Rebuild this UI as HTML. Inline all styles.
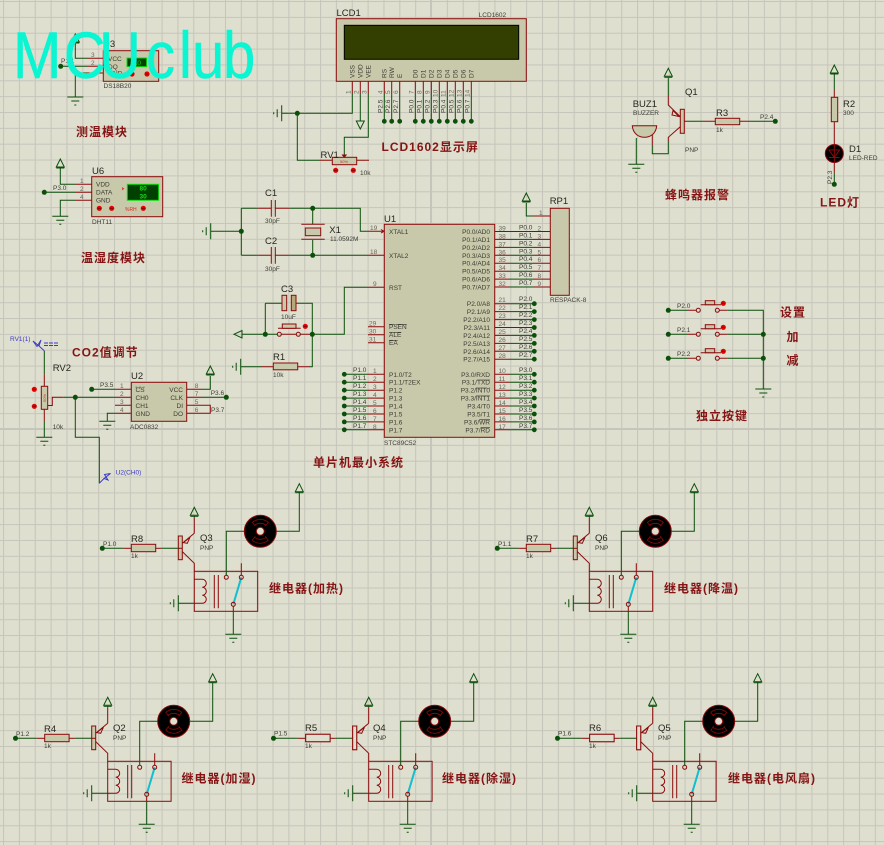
<!DOCTYPE html>
<html><head><meta charset="utf-8"><style>
html,body{margin:0;padding:0;background:#dfdfcf}
svg{display:block}
text{font-family:"Liberation Sans","Noto Sans CJK SC",sans-serif;fill:#3c3c34;font-size:6.5px}
.b{font-size:9.5px;fill:#26261f}
.n{fill:#6a6a5c}
.c{font-size:12px;fill:#861414;font-weight:bold;letter-spacing:1px}
.g{stroke:#0a4f0a;fill:none;stroke-width:1}
.r{stroke:#8b0a0a;fill:none;stroke-width:1}
.bx{stroke:#8b0a0a;fill:#c8c8aa;stroke-width:1}
.bl{stroke:#8b0a0a;fill:#dfdfcf;stroke-width:1}
.d{fill:#0a4f0a;stroke:none}
.blue{fill:#3a3ac8}
.e{text-anchor:end}
</style></head><body>
<svg xmlns="http://www.w3.org/2000/svg" width="884" height="845" viewBox="0 0 884 845">
<defs>
<pattern id="grid" patternUnits="userSpaceOnUse" x="3.05" y="1.05" width="15.85" height="15.85">
<path d="M.5 0V15.85M0 .5H15.85" stroke="#c5c5bb" stroke-width="1.1" fill="none"/>
</pattern>
<g id="pw"><path d="M0-9L-4-1H4Z" class="g" stroke-width="1.4"/><path d="M-4 0H4" class="g"/></g>
<g id="pd"><path d="M0 9L-4 1H4Z" class="g" stroke-width="1.4"/></g>
<g id="gnd"><path d="M-8 0H8M-4 4H4M-1 8H1" class="g"/></g>
<g id="gl"><path d="M0-8V8M-4.5-4V4M-8-1V1" class="g"/></g>
<g id="rd"><circle r="2.6" fill="#e80000"/><path d="M-1.5 0H1.5" stroke="#600" stroke-width=".8"/></g>
<g id="relay">
<rect x="0" y="0" width="63.4" height="40" class="r"/>
<path d="M0 8H8a4 4 0 0 1 0 8a4 4 0 0 1 0 8a4 4 0 0 1 0 8H0" class="r"/>
<path d="M20 3.7V37M24 3.7V37" class="r"/>
<path d="M32 4V-40H50" class="g"/>
<path d="M47 4V-8M39 35V40" class="r"/>
<path d="M39 40V63" class="g"/>
<use href="#gnd" x="39" y="63"/>
<path d="M39 33L47 6" stroke="#10c0d0" stroke-width="2"/>
<circle cx="32" cy="6" r="2" fill="#dfdfcf" class="r"/>
<circle cx="47" cy="6" r="2" fill="#dfdfcf" class="r"/>
<circle cx="39" cy="33" r="2" fill="#dfdfcf" class="r"/>
<path d="M0 32H-16" class="g"/>
<use href="#gl" x="-16" y="32"/>
<circle cx="66" cy="-40" r="16" fill="#000" stroke="#8b0a0a"/>
<circle cx="66" cy="-40" r="4" fill="#dfdfcf" stroke="#8b0a0a"/>
<path d="M60-46Q66-50 72-46M58-49Q66-55 74-49L71-45M61-45L58-49M60-34Q66-30 72-34M58-31Q66-25 74-31L71-35M61-35L58-31" stroke="#8b0a0a" fill="none" stroke-width=".8"/>
<path d="M82-40H105V-79.6" class="g"/>
<use href="#pw" x="105" y="-78.6"/>
<path d="M0-38V-54" class="r"/>
<path d="M0-54V-55" class="g"/>
<use href="#pw" x="0" y="-55"/>
<path d="M0 0V-8L-12-19.7M-12-28L0-38" class="r"/>
<path d="M-11-28.7L-4.3-34L-7-28Z" class="r"/>
<rect x="-16" y="-35.3" width="4" height="23.7" class="bx"/>
<path d="M-12-23H-16" class="r"/>
<path d="M-16-23H-24M-24-23H-33" class="g"/>
<path d="M-33-23H-38.6" class="r"/>
<rect x="-63" y="-27" width="24.4" height="7.4" class="bx"/>
<path d="M-71-23H-63" class="r"/>
<path d="M-92-23H-71" class="g"/>
</g>
</defs>
<rect width="884" height="845" fill="#dfdfcf"/>
<rect width="884" height="845" fill="url(#grid)"/>
<path d="M431 0V845M0 429H884" stroke="#c5c5bb" stroke-width="2" fill="none"/>

<!-- U3 DS18B20 -->
<rect x="103.3" y="50.7" width="55.4" height="30.6" class="bx"/>
<path d="M87 58.3H103M87 66.3H103M87 73H103" class="r"/>
<path d="M75.3 43V58.3H87M60.7 66.3H87M87 73H75.3V97" class="g"/>
<use href="#pw" x="75.3" y="43"/>
<use href="#gnd" x="75.3" y="97"/>
<circle cx="60.7" cy="66.3" r="2.5" class="d"/>
<text x="61" y="63">P1.1</text>
<text x="91" y="57" class="n">3</text><text x="91" y="65" class="n">2</text>
<text x="108" y="61">VCC</text><text x="108" y="69">DQ</text><text x="108" y="75.5">GND</text>
<rect x="127" y="58" width="19.7" height="8.7" fill="#004000" stroke="#10e010"/>
<text x="132" y="65" style="fill:#10e010">0.0</text>
<use href="#rd" x="132" y="74"/><use href="#rd" x="147" y="74"/>
<text x="103.5" y="88">DS18B20</text>
<text x="103" y="47" class="b">U3</text>

<!-- U6 DHT11 -->
<rect x="91.7" y="176.7" width="71" height="40" class="bx"/>
<path d="M76 184.3H91.7M76 192.3H91.7M76 200.3H91.7" class="r"/>
<path d="M60.3 168V184.3H76M44.3 192.3H76M76 200.3H60.3V216.3" class="g"/>
<use href="#pw" x="60.3" y="168"/>
<use href="#gnd" x="60.3" y="216.3"/>
<circle cx="44.3" cy="192.3" r="2.5" class="d"/>
<text x="53" y="190">P3.0</text>
<text x="80" y="183" class="n">1</text><text x="80" y="191" class="n">2</text><text x="80" y="199" class="n">4</text>
<text x="96" y="186.5">VDD</text><text x="96" y="194.5">DATA</text><text x="96" y="202.5">GND</text>
<rect x="127.3" y="184.3" width="31.4" height="16" fill="#004000" stroke="#10e010"/>
<text x="139.5" y="190.5" style="fill:#10e010;font-weight:bold">80</text>
<text x="139.5" y="198.5" style="fill:#10e010;font-weight:bold">30</text>
<path d="M122 187l2.5 1.7-2.5 1.7z" fill="#e04040"/>
<use href="#rd" x="99.3" y="208.3"/><use href="#rd" x="111.7" y="208.3"/><use href="#rd" x="143.3" y="208.3"/>
<text x="125" y="211" style="font-size:5px;fill:#d03030">%RH</text>
<text x="92" y="174" class="b">U6</text>
<text x="92" y="224">DHT11</text>

<!-- LCD -->
<rect x="336.3" y="18.7" width="190" height="62.6" class="bx"/>
<rect x="344.3" y="25.3" width="174.4" height="34" fill="#333f00" stroke="#000"/>
<text x="336.5" y="16" class="b">LCD1</text>
<text x="478.7" y="17">LCD1602</text>
<path d="M352.3 81V94M360.3 81V94M368.3 81V94M384.3 81V94M391.7 81V94M399.7 81V94M415.3 81V94M423.3 81V94M431.3 81V94M439.3 81V94M447.3 81V94M455.3 81V94M463.3 81V94M471.3 81V94" class="r"/>
<path d="M352.3 94V113.3H297.3M281.7 113.3H297.3V160.3H320M360.3 94V121M368.3 94V137.3H344.3V155M384.3 94V121.3M391.7 94V121.3M399.7 94V121.3M415.3 94V121.3M423.3 94V121.3M431.3 94V121.3M439.3 94V121.3M447.3 94V121.3M455.3 94V121.3M463.3 94V121.3M471.3 94V121.3" class="g"/>
<use href="#gl" x="281.7" y="113.3"/>
<use href="#pd" x="360.3" y="120"/>
<circle cx="297.3" cy="113.3" r="2.5" class="d"/>
<g class="d"><circle cx="384.3" cy="121.3" r="2.4"/><circle cx="391.7" cy="121.3" r="2.4"/><circle cx="399.7" cy="121.3" r="2.4"/><circle cx="415.3" cy="121.3" r="2.4"/><circle cx="423.3" cy="121.3" r="2.4"/><circle cx="431.3" cy="121.3" r="2.4"/><circle cx="439.3" cy="121.3" r="2.4"/><circle cx="447.3" cy="121.3" r="2.4"/><circle cx="455.3" cy="121.3" r="2.4"/><circle cx="463.3" cy="121.3" r="2.4"/><circle cx="471.3" cy="121.3" r="2.4"/></g>
<g>
<text transform="translate(354.5 78) rotate(-90)">VSS</text>
<text transform="translate(362.5 78) rotate(-90)">VDD</text>
<text transform="translate(370.5 78) rotate(-90)">VEE</text>
<text transform="translate(386.5 78) rotate(-90)">RS</text>
<text transform="translate(394 78) rotate(-90)">RW</text>
<text transform="translate(402 78) rotate(-90)">E</text>
<text transform="translate(417.5 78) rotate(-90)">D0</text>
<text transform="translate(425.5 78) rotate(-90)">D1</text>
<text transform="translate(433.5 78) rotate(-90)">D2</text>
<text transform="translate(441.5 78) rotate(-90)">D3</text>
<text transform="translate(449.5 78) rotate(-90)">D4</text>
<text transform="translate(457.5 78) rotate(-90)">D5</text>
<text transform="translate(465.5 78) rotate(-90)">D6</text>
<text transform="translate(473.5 78) rotate(-90)">D7</text>
<text class="n" transform="translate(350.5 94) rotate(-90)">1</text>
<text class="n" transform="translate(358.5 94) rotate(-90)">2</text>
<text class="n" transform="translate(366.5 94) rotate(-90)">3</text>
<text class="n" transform="translate(382.5 94) rotate(-90)">4</text>
<text class="n" transform="translate(390 94) rotate(-90)">5</text>
<text class="n" transform="translate(398 94) rotate(-90)">6</text>
<text class="n" transform="translate(413.5 94) rotate(-90)">7</text>
<text class="n" transform="translate(421.5 94) rotate(-90)">8</text>
<text class="n" transform="translate(429.5 94) rotate(-90)">9</text>
<text class="n" transform="translate(437.5 97) rotate(-90)">10</text>
<text class="n" transform="translate(445.5 97) rotate(-90)">11</text>
<text class="n" transform="translate(453.5 97) rotate(-90)">12</text>
<text class="n" transform="translate(461.5 97) rotate(-90)">13</text>
<text class="n" transform="translate(469.5 97) rotate(-90)">14</text>
<text transform="translate(382.5 113) rotate(-90)">P2.5</text>
<text transform="translate(390 113) rotate(-90)">P2.6</text>
<text transform="translate(398 113) rotate(-90)">P2.7</text>
<text transform="translate(413.5 113) rotate(-90)">P0.0</text>
<text transform="translate(421.5 113) rotate(-90)">P0.1</text>
<text transform="translate(429.5 113) rotate(-90)">P0.2</text>
<text transform="translate(437.5 113) rotate(-90)">P0.3</text>
<text transform="translate(445.5 113) rotate(-90)">P0.4</text>
<text transform="translate(453.5 113) rotate(-90)">P0.5</text>
<text transform="translate(461.5 113) rotate(-90)">P0.6</text>
<text transform="translate(469.5 113) rotate(-90)">P0.7</text>
</g>
<!-- RV1 -->
<rect x="332.3" y="157.3" width="24.4" height="7.4" class="bx"/>
<path d="M320 160.3H332.3M356.7 160.3H369M344.3 155V157M342.5 155h3.6l-1.8 2.2z" class="r"/>
<text x="340" y="163" style="font-size:4px;fill:#d03030">50%</text>
<use href="#rd" x="335.7" y="170.3"/><use href="#rd" x="353.3" y="170.3"/>
<text x="320.5" y="158" class="b">RV1</text>
<text x="360" y="175">10k</text>

<!-- Crystal / caps -->
<path d="M241.3 208.3V255.3M210.7 231.3H241.3M241.3 208.3H257.3M289.3 208.3H360.3V231.3H368M241.3 255.3H257.3M289.3 255.3H368M312.7 208.3V224M312.7 240V255.3M265.3 303.3H282M296 303.3H312.3V366.7H310M265.3 303.3V334.3M242 334.3H277M312.3 334.3H344.3V287.3H368M240.7 366.7H261" class="g"/>
<path d="M257.3 208.3H271.3M275.3 208.3H289.3M271.3 200V216.7M275.3 200V216.7M257.3 255.3H271.3M275.3 255.3H289.3M271.3 247V263.7M275.3 247V263.7M301.3 224.3H324.7M301.3 239.3H324.7M368 231.3H383M368 255.3H384.3M368 287.3H384.3M261 366.7H273.3M297.7 366.7H310M281.4 334.3H296M300.4 334.3H312.3M278 328.3H300.7" class="r"/>
<path d="M381 229.5l3 1.8-3 1.8" class="r"/>
<rect x="305.3" y="228" width="15.4" height="7.7" class="bx"/>
<use href="#gl" x="210.7" y="231.3"/>
<use href="#gl" x="240.7" y="366.7"/>
<circle cx="241.3" cy="231.3" r="2.5" class="d"/>
<circle cx="312.7" cy="208.3" r="2.5" class="d"/>
<circle cx="312.7" cy="255.3" r="2.5" class="d"/>
<circle cx="265.3" cy="334.3" r="2.5" class="d"/>
<circle cx="312.3" cy="334.3" r="2.5" class="d"/>
<rect x="282" y="295.3" width="4.7" height="15.4" class="bx"/>
<rect x="291.3" y="295.3" width="4.7" height="15.4" fill="#b8a878" stroke="#8b0a0a"/>
<path d="M242 330.5V338L234 334.3Z" class="g" stroke-width="1.3"/>
<rect x="282.3" y="324" width="13.7" height="4.3" class="bx"/>
<circle cx="279.3" cy="334.3" r="2" fill="#dfdfcf" class="r"/>
<circle cx="298.3" cy="334.3" r="2" fill="#dfdfcf" class="r"/>
<use href="#rd" x="305.3" y="326.3"/>
<rect x="273.3" y="363" width="24.4" height="6.8" class="bx"/>
<text x="265" y="196" class="b">C1</text><text x="265" y="223">30pF</text>
<text x="265" y="244" class="b">C2</text><text x="265" y="271">30pF</text>
<text x="329.3" y="233" class="b">X1</text><text x="330" y="241">11.0592M</text>
<text x="281" y="292" class="b">C3</text><text x="281" y="319">10uF</text>
<text x="273" y="360" class="b">R1</text><text x="273" y="377">10k</text>

<!-- U1 -->
<rect x="384.3" y="224.3" width="110.4" height="213" class="bx"/>
<text x="384" y="222" class="b">U1</text>
<text x="384" y="445">STC89C52</text>
<text x="389" y="234">XTAL1</text><text x="389" y="258">XTAL2</text><text x="389" y="290">RST</text>
<text x="389" y="329" text-decoration="overline">PSEN</text><text x="389" y="337" text-decoration="overline">ALE</text><text x="389" y="345" text-decoration="overline">EA</text>
<text x="389" y="376.8">P1.0/T2</text><text x="389" y="384.7">P1.1/T2EX</text><text x="389" y="392.7">P1.2</text><text x="389" y="400.6">P1.3</text><text x="389" y="408.5">P1.4</text><text x="389" y="416.5">P1.5</text><text x="389" y="424.4">P1.6</text><text x="389" y="432.3">P1.7</text>
<g class="e">
<text class="e" x="490" y="234">P0.0/AD0</text><text class="e" x="490" y="241.9">P0.1/AD1</text><text class="e" x="490" y="249.9">P0.2/AD2</text><text class="e" x="490" y="257.8">P0.3/AD3</text><text class="e" x="490" y="265.7">P0.4/AD4</text><text class="e" x="490" y="273.7">P0.5/AD5</text><text class="e" x="490" y="281.6">P0.6/AD6</text><text class="e" x="490" y="289.5">P0.7/AD7</text>
<text class="e" x="490" y="306.2">P2.0/A8</text><text class="e" x="490" y="314.1">P2.1/A9</text><text class="e" x="490" y="322.1">P2.2/A10</text><text class="e" x="490" y="330">P2.3/A11</text><text class="e" x="490" y="337.9">P2.4/A12</text><text class="e" x="490" y="345.9">P2.5/A13</text><text class="e" x="490" y="353.8">P2.6/A14</text><text class="e" x="490" y="361.7">P2.7/A15</text>
<text class="e" x="490" y="376.8">P3.0/RXD</text><text class="e" x="490" y="384.7">P3.1/<tspan text-decoration="overline">TXD</tspan></text><text class="e" x="490" y="392.7">P3.2/<tspan text-decoration="overline">INT0</tspan></text><text class="e" x="490" y="400.6">P3.3/<tspan text-decoration="overline">INT1</tspan></text><text class="e" x="490" y="408.5">P3.4/T0</text><text class="e" x="490" y="416.5">P3.5/T1</text><text class="e" x="490" y="424.4">P3.6/<tspan text-decoration="overline">WR</tspan></text><text class="e" x="490" y="432.3">P3.7/<tspan text-decoration="overline">RD</tspan></text>
</g>
<path d="M368 326.7H384.3M368 334.7H384.3M368 342.7H384.3M368 374.3H384.3M368 382.2H384.3M368 390.2H384.3M368 398.1H384.3M368 406H384.3M368 414H384.3M368 421.9H384.3M368 429.8H384.3" class="r"/>
<path d="M344.3 374.3H368M344.3 382.2H368M344.3 390.2H368M344.3 398.1H368M344.3 406H368M344.3 414H368M344.3 421.9H368M344.3 429.8H368" class="g"/>
<g class="d"><circle cx="344.3" cy="374.3" r="2.4"/><circle cx="344.3" cy="382.2" r="2.4"/><circle cx="344.3" cy="390.2" r="2.4"/><circle cx="344.3" cy="398.1" r="2.4"/><circle cx="344.3" cy="406" r="2.4"/><circle cx="344.3" cy="414" r="2.4"/><circle cx="344.3" cy="421.9" r="2.4"/><circle cx="344.3" cy="429.8" r="2.4"/></g>
<text x="353" y="372">P1.0</text><text x="353" y="380">P1.1</text><text x="353" y="388">P1.2</text><text x="353" y="396">P1.3</text><text x="353" y="404">P1.4</text><text x="353" y="412">P1.5</text><text x="353" y="420">P1.6</text><text x="353" y="428">P1.7</text>
<text class="n" x="370" y="230">19</text><text class="n" x="370" y="254">18</text><text class="n" x="373" y="286">9</text><text class="n" x="369" y="325.5">29</text><text class="n" x="369" y="333.5">30</text><text class="n" x="369" y="341.5">31</text>
<text class="n" x="373" y="373">1</text><text class="n" x="373" y="381">2</text><text class="n" x="373" y="389">3</text><text class="n" x="373" y="397">4</text><text class="n" x="373" y="405">5</text><text class="n" x="373" y="413">6</text><text class="n" x="373" y="421">7</text><text class="n" x="373" y="429">8</text>
<!-- right pins -->
<path d="M494.7 231.5H510M494.7 239.4H510M494.7 247.4H510M494.7 255.3H510M494.7 263.2H510M494.7 271.2H510M494.7 279.1H510M494.7 287H510M534 231.5H550M534 239.4H550M534 247.4H550M534 255.3H550M534 263.2H550M534 271.2H550M534 279.1H550M534 287H550M534 216H550M494.7 303.7H510M494.7 311.6H510M494.7 319.6H510M494.7 327.5H510M494.7 335.4H510M494.7 343.4H510M494.7 351.3H510M494.7 359.2H510M494.7 374.3H510M494.7 382.2H510M494.7 390.2H510M494.7 398.1H510M494.7 406H510M494.7 414H510M494.7 421.9H510M494.7 429.8H510" class="r"/>
<path d="M510 231.5H534M510 239.4H534M510 247.4H534M510 255.3H534M510 263.2H534M510 271.2H534M510 279.1H534M510 287H534M526.3 203V216H534M510 303.7H534M510 311.6H534M510 319.6H534M510 327.5H534M510 335.4H534M510 343.4H534M510 351.3H534M510 359.2H534M510 374.3H534M510 382.2H534M510 390.2H534M510 398.1H534M510 406H534M510 414H534M510 421.9H534M510 429.8H534" class="g"/>
<use href="#pw" x="526.3" y="202"/>
<g class="d"><circle cx="534.3" cy="303.7" r="2.4"/><circle cx="534.3" cy="311.6" r="2.4"/><circle cx="534.3" cy="319.6" r="2.4"/><circle cx="534.3" cy="327.5" r="2.4"/><circle cx="534.3" cy="335.4" r="2.4"/><circle cx="534.3" cy="343.4" r="2.4"/><circle cx="534.3" cy="351.3" r="2.4"/><circle cx="534.3" cy="359.2" r="2.4"/><circle cx="534.3" cy="374.3" r="2.4"/><circle cx="534.3" cy="382.2" r="2.4"/><circle cx="534.3" cy="390.2" r="2.4"/><circle cx="534.3" cy="398.1" r="2.4"/><circle cx="534.3" cy="406" r="2.4"/><circle cx="534.3" cy="414" r="2.4"/><circle cx="534.3" cy="421.9" r="2.4"/><circle cx="534.3" cy="429.8" r="2.4"/></g>
<rect x="550.3" y="208.3" width="19" height="87" class="bx"/>
<text x="549.7" y="204" class="b">RP1</text><text x="550" y="302">RESPACK-8</text>
<text class="n" x="539" y="215">1</text>
<text class="n" x="498.5" y="230.5">39</text><text x="519" y="229.5">P0.0</text><text class="n" x="537.5" y="230.5">2</text>
<text class="n" x="498.5" y="238.4">38</text><text x="519" y="237.4">P0.1</text><text class="n" x="537.5" y="238.4">3</text>
<text class="n" x="498.5" y="246.4">37</text><text x="519" y="245.4">P0.2</text><text class="n" x="537.5" y="246.4">4</text>
<text class="n" x="498.5" y="254.3">36</text><text x="519" y="253.3">P0.3</text><text class="n" x="537.5" y="254.3">5</text>
<text class="n" x="498.5" y="262.2">35</text><text x="519" y="261.2">P0.4</text><text class="n" x="537.5" y="262.2">6</text>
<text class="n" x="498.5" y="270.2">34</text><text x="519" y="269.2">P0.5</text><text class="n" x="537.5" y="270.2">7</text>
<text class="n" x="498.5" y="278.1">33</text><text x="519" y="277.1">P0.6</text><text class="n" x="537.5" y="278.1">8</text>
<text class="n" x="498.5" y="286">32</text><text x="519" y="285">P0.7</text><text class="n" x="537.5" y="286">9</text>
<text class="n" x="498.5" y="302">21</text><text x="519" y="301">P2.0</text>
<text class="n" x="498.5" y="310">22</text><text x="519" y="309">P2.1</text>
<text class="n" x="498.5" y="318">23</text><text x="519" y="317">P2.2</text>
<text class="n" x="498.5" y="326">24</text><text x="519" y="325">P2.3</text>
<text class="n" x="498.5" y="334">25</text><text x="519" y="333">P2.4</text>
<text class="n" x="498.5" y="342">26</text><text x="519" y="341">P2.5</text>
<text class="n" x="498.5" y="350">27</text><text x="519" y="349">P2.6</text>
<text class="n" x="498.5" y="358">28</text><text x="519" y="357">P2.7</text>
<text class="n" x="498.5" y="373">10</text><text x="519" y="372">P3.0</text>
<text class="n" x="498.5" y="381">11</text><text x="519" y="380">P3.1</text>
<text class="n" x="498.5" y="389">12</text><text x="519" y="388">P3.2</text>
<text class="n" x="498.5" y="397">13</text><text x="519" y="396">P3.3</text>
<text class="n" x="498.5" y="405">14</text><text x="519" y="404">P3.4</text>
<text class="n" x="498.5" y="413">15</text><text x="519" y="412">P3.5</text>
<text class="n" x="498.5" y="421">16</text><text x="519" y="420">P3.6</text>
<text class="n" x="498.5" y="429">17</text><text x="519" y="428">P3.7</text>

<!-- RV2 / U2 -->
<path d="M44.3 350.7V374.3M44.3 421V437.3M63.3 397.3H115M75.3 397.3V437.3H99.3V483.3M91.7 389.3H115M115 413.3H107.3V421.3M202 389.3H210.3V376M202 397.3H226.3" class="g"/>
<path d="M44.3 374.3V386.3M44.3 409.3V421M48 405.5H52.3V397.3H63.3M115 389.3H131M115 397.3H131M115 405.3H131M115 413.3H131M186.7 389.3H202M186.7 397.3H202M186.7 405.3H210.3V413.3H186.7" class="r"/>
<rect x="41.3" y="386.3" width="6.4" height="23" class="bx"/>
<text transform="translate(46 402) rotate(-90)" style="font-size:4px;fill:#d03030">50%</text>
<use href="#rd" x="34.3" y="389.3"/><use href="#rd" x="34.3" y="406.3"/>
<use href="#gnd" x="44.3" y="437.3"/>
<use href="#gnd" x="107.3" y="421.3"/>
<use href="#pw" x="210.3" y="375"/>
<circle cx="75.3" cy="397.3" r="2.5" class="d"/>
<circle cx="91.7" cy="389.3" r="2.5" class="d"/>
<circle cx="226.3" cy="397.3" r="2.5" class="d"/>
<path d="M44.3 350.7L39 346M39 346L33 341L37 346.5L41 340Z" stroke="#3a3ac8" fill="none"/>
<path d="M44 343H59M44 345.5H59" stroke="#3a3ac8" stroke-dasharray="4 1" fill="none"/>
<path d="M99.3 483.3L104 478.5M104 478.5L110.5 473.5L104.5 474.5L108 480Z" stroke="#3a3ac8" fill="none"/>
<text x="10" y="341" class="blue">RV1(1)</text>
<text x="115.7" y="474.5" class="blue">U2(CH0)</text>
<text x="52.7" y="371" class="b">RV2</text><text x="52.7" y="429">10k</text>
<rect x="131.3" y="382.3" width="55.4" height="39" class="bx"/>
<text x="131" y="379" class="b">U2</text><text x="130" y="429">ADC0832</text>
<text x="135.5" y="391.8" text-decoration="overline">CS</text><text x="135.5" y="399.8">CH0</text><text x="135.5" y="407.8">CH1</text><text x="135.5" y="415.8">GND</text>
<text class="e" x="183" y="391.8">VCC</text><text class="e" x="183" y="399.8">CLK</text><text class="e" x="183" y="407.8">DI</text><text class="e" x="183" y="415.8">DO</text>
<text class="n" x="120" y="388">1</text><text class="n" x="120" y="396">2</text><text class="n" x="120" y="404">3</text><text class="n" x="120" y="412">4</text>
<text class="n" x="194.7" y="388">8</text><text class="n" x="194.7" y="396">7</text><text class="n" x="194.7" y="404">5</text><text class="n" x="194.7" y="412">6</text>
<text x="100" y="387">P3.5</text><text x="210.7" y="395">P3.6</text><text x="211" y="412">P3.7</text>

<!-- Buzzer -->
<use href="#pw" x="668.3" y="77.3"/>
<path d="M668.3 78V95" class="g"/>
<path d="M668.3 95V105L680.3 116.7M680.3 126.7L668.3 137.3V141" class="r"/>
<path d="M668.3 141V153.7H652.3V145M636.3 138V164.3" class="g"/>
<path d="M652.3 145V135" class="r"/>
<path d="M673 110.5L679 116.5L672 115Z" class="r"/>
<rect x="680.3" y="109.3" width="4" height="24" class="bx"/>
<path d="M632.3 125.7H656.7C656 134 650 137.3 644.5 137.3C639 137.3 633 134 632.3 125.7Z" class="bx"/>
<use href="#gnd" x="636.3" y="164.3"/>
<path d="M684.3 121.3H688M703 121.3H715.3M739.7 121.3H750" class="r"/>
<path d="M688 121.3H703M750 121.3H775.3" class="g"/>
<rect x="715.3" y="118.3" width="24.4" height="6.4" class="bx"/>
<circle cx="775.3" cy="121.3" r="2.5" class="d"/>
<text x="685" y="95" class="b">Q1</text><text x="685" y="152">PNP</text>
<text x="632.7" y="107" class="b">BUZ1</text><text x="633" y="115">BUZZER</text>
<text x="716" y="116" class="b">R3</text><text x="716" y="132">1k</text><text x="760" y="119">P2.4</text>
<!-- LED -->
<use href="#pw" x="834.3" y="74"/>
<path d="M834.3 74V90M834.3 172.7V184.3" class="g"/>
<path d="M834.3 90V97.3M834.3 121.7V144M834.3 162V172.7" class="r"/>
<rect x="831.3" y="97.3" width="6.4" height="24.4" class="bx"/>
<circle cx="834.3" cy="153.5" r="9" fill="#000" stroke="#8b0a0a"/>
<path d="M829 150H839.5L834.3 157.5ZM829 157.5H839.5M834.3 144V163" class="r"/>
<circle cx="834.3" cy="184.3" r="2.5" class="d"/>
<text x="843" y="107" class="b">R2</text><text x="843" y="115">300</text>
<text x="849" y="152" class="b">D1</text><text x="849" y="160">LED-RED</text>
<text transform="translate(832 184) rotate(-90)">P2.3</text>

<!-- Buttons -->
<path d="M668.3 310.3H688M668.3 334.3H688M668.3 358.3H688M727.3 310.3H763.3V389M727.3 334.3H763.3M727.3 358.3H763.3" class="g"/>
<path d="M688 310.3H696.3M719.3 310.3H727.3M688 334.3H696.3M719.3 334.3H727.3M688 358.3H696.3M719.3 358.3H727.3M700.7 304.7H721M700.7 328.7H721M700.7 352.7H721" class="r"/>
<rect x="705.3" y="300.7" width="9.4" height="4" class="bx"/><rect x="705.3" y="324.7" width="9.4" height="4" class="bx"/><rect x="705.3" y="348.7" width="9.4" height="4" class="bx"/>
<g fill="#dfdfcf" class="r"><circle cx="698.3" cy="310.3" r="2"/><circle cx="717.3" cy="310.3" r="2"/><circle cx="698.3" cy="334.3" r="2"/><circle cx="717.3" cy="334.3" r="2"/><circle cx="698.3" cy="358.3" r="2"/><circle cx="717.3" cy="358.3" r="2"/></g>
<use href="#rd" x="723.3" y="303.3"/><use href="#rd" x="723.3" y="327.3"/><use href="#rd" x="723.3" y="351.3"/>
<g class="d"><circle cx="668.3" cy="310.3" r="2.5"/><circle cx="668.3" cy="334.3" r="2.5"/><circle cx="668.3" cy="358.3" r="2.5"/><circle cx="763.3" cy="334.3" r="2.5"/><circle cx="763.3" cy="358.3" r="2.5"/></g>
<use href="#gnd" x="763.3" y="389"/>
<text x="677" y="308">P2.0</text><text x="677" y="332">P2.1</text><text x="677" y="356">P2.2</text>

<!-- Relays -->
<use href="#relay" x="194.3" y="571.3"/>
<circle cx="102.3" cy="548.3" r="2.5" class="d"/>
<text x="131" y="542" class="b">R8</text><text x="131" y="558">1k</text><text x="103" y="546">P1.0</text><text x="200" y="541" class="b">Q3</text><text x="200" y="550">PNP</text>
<use href="#relay" x="589.3" y="571.3"/>
<circle cx="497.3" cy="548.3" r="2.5" class="d"/>
<text x="526" y="542" class="b">R7</text><text x="526" y="558">1k</text><text x="498" y="546">P1.1</text><text x="595" y="541" class="b">Q6</text><text x="595" y="550">PNP</text>
<use href="#relay" x="107.7" y="761.3"/>
<circle cx="15.5" cy="738.3" r="2.5" class="d"/>
<text x="44" y="732" class="b">R4</text><text x="44" y="748">1k</text><text x="16" y="736">P1.2</text><text x="113" y="731" class="b">Q2</text><text x="113" y="740">PNP</text>
<use href="#relay" x="368.7" y="761.3"/>
<rect x="305.7" y="734.3" width="24.4" height="7.4" class="bl"/>
<rect x="352.7" y="726" width="4" height="23.7" class="bl"/>
<path d="M273.5 738.3H277" class="g"/>
<circle cx="273.5" cy="738.3" r="2.5" class="d"/>
<text x="305" y="731" class="b">R5</text><text x="305" y="748">1k</text><text x="274" y="735.5">P1.5</text><text x="373" y="731" class="b">Q4</text><text x="373" y="740">PNP</text>
<use href="#relay" x="652.7" y="761.3"/>
<rect x="589.7" y="734.3" width="24.4" height="7.4" class="bl"/>
<rect x="636.7" y="726" width="4" height="23.7" class="bl"/>
<path d="M557.5 738.3H561" class="g"/>
<circle cx="557.5" cy="738.3" r="2.5" class="d"/>
<text x="589" y="731" class="b">R6</text><text x="589" y="748">1k</text><text x="558" y="735.5">P1.6</text><text x="658" y="731" class="b">Q5</text><text x="658" y="740">PNP</text>

<!-- Chinese labels -->
<text class="c" x="76" y="136">测温模块</text>
<text class="c" x="81" y="262">温湿度模块</text>
<text class="c" x="381.5" y="151">LCD1602显示屏</text>
<text class="c" x="665" y="199">蜂鸣器报警</text>
<text class="c" x="820" y="206.5">LED灯</text>
<text class="c" x="780" y="316.5">设置</text>
<text class="c" x="786.5" y="341">加</text>
<text class="c" x="786.5" y="364.5">减</text>
<text class="c" x="696" y="420">独立按键</text>
<text class="c" x="313" y="466.5">单片机最小系统</text>
<text class="c" x="72" y="356.5">CO2值调节</text>
<text class="c" x="269" y="592.5">继电器(加热)</text>
<text class="c" x="664" y="592.5">继电器(降温)</text>
<text class="c" x="181.5" y="782.5">继电器(加湿)</text>
<text class="c" x="442" y="782.5">继电器(除湿)</text>
<text class="c" x="728" y="782.5">继电器(电风扇)</text>

<text transform="scale(.88 1)" x="14.8 72.5 112.5 165.9 203.4 218.2 253.4" y="78" style="font-size:66px;fill:#0af5d2;stroke:#0af5d2;stroke-width:.5;stroke-linejoin:round">MCUclub</text>
</svg>
</body></html>
